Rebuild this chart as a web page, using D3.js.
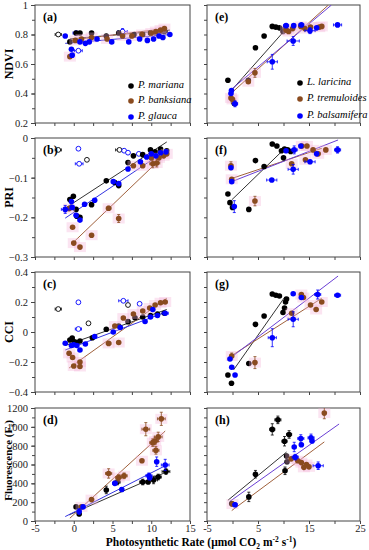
<!DOCTYPE html>
<html>
<head>
<meta charset="utf-8">
<script src="https://cdn.jsdelivr.net/npm/d3@7"></script>
<style>
body { margin: 0; background: #fff; }
svg { display: block; font-family: "Liberation Serif", "Times New Roman", serif; }
</style>
</head>
<body>
<svg id="chart" width="369" height="550"></svg>
<script>
// species names for the two columns
const left_species = ["P. mariana", "P. banksiana", "P. glauca"];
const right_species = ["L. laricina", "P. tremuloides", "P. balsamifera"];

const y_titles = ["NDVI", "PRI", "CCI", "Fluorescence"];
const x_ticks_left = [-5, 0, 5, 10, 15];
const x_ticks_right = [-5, 5, 15, 25];
const ndvi_ticks = [0.2, 0.4, 0.6, 0.8, 1];
const pri_ticks = [-0.3, -0.2, -0.1, 0];
const cci_ticks = [-0.4, -0.2, 0, 0.2, 0.4];
const fs_ticks = [0, 200, 400, 600, 800, 1000, 1200];

// points: [x, y, x error, y error]
const a_black = [[-0.5,0.75],[0.3,0.81],[0.8,0.81],[2.3,0.81],[4.2,0.79],[5.8,0.81],[7.8,0.80],[8.9,0.80],[9.9,0.81],[10.6,0.81],[11.2,0.82],[11.7,0.82,0.4,0.01]];
const a_brown = [[-0.5,0.65],[0.2,0.76],[1.0,0.77],[2.3,0.78],[4.3,0.77],[6.3,0.79],[7.5,0.79],[8.8,0.80],[10.0,0.81],[10.6,0.82],[11.2,0.83],[11.7,0.84]];
const a_blue = [[-1.1,0.79],[-0.3,0.70],[-0.2,0.66],[0.8,0.75],[1.5,0.74],[2.0,0.75],[3.0,0.77],[4.9,0.75],[7.1,0.75],[8.5,0.77],[9.5,0.76],[10.3,0.77],[11.0,0.79],[11.5,0.78],[12.4,0.80]];
const a_open_black = [[-2.0,0.80,0.4,0.01]];
const a_open_blue = [[0.3,0.81,0.4,0.01],[0.6,0.69,0.5,0],[6.3,0.82,0.6,0.02]];
const a_fits = [[[-0.5,0.77],[12.4,0.83]], [[-0.5,0.76],[11.8,0.84]], [[-1.1,0.74],[12.5,0.80]]];

const b_black = [[-0.5,-0.155],[-0.05,-0.147],[0.3,-0.18],[0.4,-0.197],[0.8,-0.2],[2.3,-0.168],[4.2,-0.108],[5.3,-0.112],[5.8,-0.12],[7.0,-0.062],[7.7,-0.045],[8.9,-0.042],[9.9,-0.03],[10.5,-0.035],[11.2,-0.028],[12.0,-0.032]];
const b_brown = [[-0.6,-0.178],[-0.15,-0.225],[0.0,-0.265],[0.8,-0.275],[2.3,-0.245],[4.5,-0.177,0.3,0.005],[5.8,-0.203,0,0.01],[7.7,-0.07],[8.9,-0.07],[10.2,-0.065,0.4,0.01],[10.7,-0.063,0.4,0.01],[10.0,-0.05],[11.0,-0.05],[11.6,-0.045],[12.0,-0.04]];
const b_blue = [[-1.1,-0.18,0.5,0.01],[-0.3,-0.16],[-0.2,-0.175],[0.3,-0.195],[0.8,-0.207],[1.4,-0.167],[2.7,-0.157],[5.1,-0.11],[5.8,-0.115],[7.0,-0.078],[8.6,-0.06],[9.4,-0.048],[10.0,-0.04],[10.6,-0.045],[11.2,-0.037],[11.9,-0.035]];
const b_open_black = [[-2.0,-0.03,0.4,0],[1.7,-0.055],[5.9,-0.03,0.5,0]];
const b_open_blue = [[0.6,-0.027],[0.7,-0.065,0.5,0],[6.5,-0.032],[7.0,-0.037],[8.4,-0.04]];
const b_fits = [[[-1.1,-0.177],[12.0,-0.01]], [[-0.15,-0.265],[11.6,-0.045]], [[-1.1,-0.202],[12.0,-0.03]]];

const c_black = [[-0.5,-0.053],[-0.2,-0.04],[0.1,-0.065],[0.4,-0.07],[0.8,-0.06],[2.4,-0.038],[4.2,0.018],[5.8,0.04],[7.0,0.069],[7.9,0.095],[8.9,0.1],[9.9,0.11],[10.8,0.12],[11.7,0.125]];
const c_brown = [[-0.6,-0.142],[-0.15,-0.17],[0.0,-0.227],[0.8,-0.23],[0.8,-0.2],[4.5,-0.076,0.3,0],[5.8,-0.07],[5.3,0.04],[6.4,0.093],[7.7,0.12],[8.9,0.14],[9.8,0.16],[10.5,0.18],[11.2,0.195],[11.8,0.2]];
const c_blue = [[-1.1,-0.075],[-0.3,-0.09],[0.0,-0.085],[0.4,-0.09],[0.8,-0.12],[1.5,-0.08],[2.7,-0.03],[5.1,0.0],[6.0,0.03],[9.2,0.07],[9.9,0.1],[10.2,0.15],[10.8,0.11],[11.8,0.125,0.4,0]];
const c_open_black = [[-2.0,0.153,0.4,0],[1.9,0.058],[7.0,0.18]];
const c_open_blue = [[0.6,0.198],[0.6,0.02,0.4,0],[6.4,0.208,0.6,0],[8.5,0.188]];
const c_fits = [[[-1.1,-0.09],[12.0,0.15]], [[-0.6,-0.24],[12.0,0.225]], [[-1.1,-0.12],[12.0,0.135]]];

const d_black = [[0.3,150],[0.7,75,0,20],[4.2,330,0,40],[5.6,414,0.4,30],[8.9,414,0.4,30],[9.6,414],[10.3,436,0.5,40],[10.9,467,0.4,30],[11.9,525,0.5,30]];
const d_brown = [[1.0,150],[2.3,227,0,20],[4.5,505,0.4,50],[5.8,461,0.4,30],[6.5,480,0.4,30],[8.8,640],[9.3,975,0.5,70],[10.2,832,0.4,40],[10.5,850,0.4,40],[10.6,750,0.4,40],[10.9,893,0.5,50],[11.3,1085,0.5,70]];
const d_blue = [[0.7,101,0,30],[1.2,150],[5.3,400,0.3,20],[6.2,335,0,20],[9.7,480,0.4,30],[9.8,460],[10.7,630,0,50],[11.8,595,0.5,60]];
const d_fits = [[[-0.6,65],[12.0,522]], [[-0.5,30],[11.8,955]], [[-1.1,47],[12.0,595]]];

const e_black = [[-0.9,0.49],[0.2,0.34],[0.4,0.33],[3.1,0.49],[4.5,0.71],[6.2,0.79],[7.8,0.855],[8.5,0.85],[9.2,0.845],[9.9,0.82],[10.3,0.84],[10.6,0.83]];
const e_brown = [[-0.3,0.37],[0.0,0.36],[3.1,0.48],[4.4,0.54,0,0.03],[10.5,0.83],[11.0,0.82],[11.8,0.84],[13.4,0.855],[14.2,0.84],[15.3,0.85],[17.0,0.85],[17.5,0.855]];
const e_blue = [[-0.3,0.40],[-0.2,0.42],[0.5,0.33,0.5,0.02],[7.8,0.615,1.0,0.05],[11.9,0.756,1.2,0.03],[10.5,0.86,0.5,0.01],[12.0,0.86],[13.5,0.865,0.5,0.01],[15.2,0.826,1.0,0.02],[16.5,0.845],[20.6,0.865,0.8,0.01]];
const e_fits = [[[-0.5,0.41],[10.3,0.83]], [[-0.3,0.40],[18.8,1.0]], [[-0.5,0.42],[19.4,1.0]]];

const f_black = [[-0.9,-0.141],[-0.5,-0.163],[0.0,-0.175],[3.2,-0.18],[4.5,-0.057],[6.2,-0.072],[7.8,-0.015],[8.7,-0.02],[9.6,-0.032],[10.0,-0.05],[10.2,-0.028],[10.8,-0.03],[11.4,-0.034]];
const f_brown = [[-0.3,-0.07,0,0.01],[-0.15,-0.104],[4.4,-0.159,0,0.012],[11.6,-0.065],[13.6,-0.02],[14.3,-0.055],[14.6,-0.02],[15.8,-0.03],[16.8,-0.04],[18.3,-0.03]];
const f_blue = [[-0.3,-0.075],[-0.15,-0.11],[0.35,-0.173,0,0.015],[7.7,-0.106,1.0,0],[11.9,-0.079,1.0,0.012],[10.5,-0.032],[12.1,-0.03,0.6,0.01],[13.4,-0.02],[15.2,-0.06,1.0,0],[16.5,-0.04],[20.6,-0.03,0.6,0.008]];
const f_fits = [[[-0.15,-0.156],[10.3,-0.026]], [[-0.15,-0.102],[17.5,-0.026]], [[-0.15,-0.11],[20.7,-0.005]]];

const g_black = [[-0.9,-0.287],[-0.2,-0.342],[3.2,-0.21],[4.5,0.051],[6.2,0.107],[7.8,0.253],[8.5,0.245],[9.2,0.24],[9.9,0.13],[10.2,0.16],[10.4,0.2],[10.6,0.22]];
const g_brown = [[-0.15,-0.16,0,0.02],[4.4,-0.204,0,0.04],[11.6,0.125],[13.5,0.25],[13.9,0.23],[15.3,0.18],[16.4,0.15],[17.5,0.2]];
const g_blue = [[-0.5,-0.18],[-0.15,-0.235],[0.5,-0.287],[7.8,-0.038,0.8,0.06],[11.9,0.085,1.0,0.05],[11.9,0.255],[13.5,0.23],[16.7,0.25,0.6,0.03],[20.6,0.245,0.6,0.01]];
const g_fits = [[[0.2,-0.253],[10.3,0.235]], [[-0.5,-0.165],[17.5,0.225]], [[-0.5,-0.175],[20.7,0.373]]];

const h_black = [[-0.15,184],[3.2,256,0,50],[4.5,497,0,40],[7.8,973,0.5,60],[8.9,1074,0.6,40],[10.2,847,0.5,50],[11.1,919,0.5,40],[10.6,689],[10.7,630],[10.3,533,0,40]];
const h_brown = [[0.0,180],[11.5,660],[12.8,640],[13.5,620],[14.0,570],[14.5,600],[15.0,575],[18.0,1146,0,60]];
const h_blue = [[0.5,173,0.4,20],[12.1,786,0,50],[12.3,678,0.6,30],[13.4,876,0.6,40],[13.5,810],[15.4,883,0.6,40],[15.6,850],[16.8,587,1.0,40]];
const h_fits = [[[-0.9,220],[10.6,732]], [[-0.15,111],[18.0,840]], [[-0.5,209],[20.9,1030]]];

const COLORS = ["#000000", "#8a4b1f", "#0000ff"];
const FIT_COLORS_LEFT = ["#333333", "#a0613c", "#3434e0"];
const FIT_COLORS_RIGHT = ["#333333", "#a0613c", "#6a3fd4"];

const COLS = [[35, 190], [207, 360]];
const ROWS = [[5, 123], [138, 257], [272, 392], [408, 521]];
const X_DOMAINS = [[-5, 15], [-5, 25]];

var rows_cfg = [
    { domain: [0.2, 1], ticks: ndvi_ticks, minor: 0.1 },
    { domain: [-0.3, 0], ticks: pri_ticks, minor: 0.05 },
    { domain: [-0.4, 0.4], ticks: cci_ticks, minor: 0.1 },
    { domain: [0, 1200], ticks: fs_ticks, minor: 100 }
];

var panels = [
    { label: "(a)", col: 0, row: 0, series: [a_black, a_brown, a_blue], open: [a_open_black, [], a_open_blue], fits: a_fits },
    { label: "(b)", col: 0, row: 1, series: [b_black, b_brown, b_blue], open: [b_open_black, [], b_open_blue], fits: b_fits },
    { label: "(c)", col: 0, row: 2, series: [c_black, c_brown, c_blue], open: [c_open_black, [], c_open_blue], fits: c_fits },
    { label: "(d)", col: 0, row: 3, series: [d_black, d_brown, d_blue], open: [[], [], []], fits: d_fits },
    { label: "(e)", col: 1, row: 0, series: [e_black, e_brown, e_blue], open: [[], [], []], fits: e_fits },
    { label: "(f)", col: 1, row: 1, series: [f_black, f_brown, f_blue], open: [[], [], []], fits: f_fits },
    { label: "(g)", col: 1, row: 2, series: [g_black, g_brown, g_blue], open: [[], [], []], fits: g_fits },
    { label: "(h)", col: 1, row: 3, series: [h_black, h_brown, h_blue], open: [[], [], []], fits: h_fits }
];

var svg = d3.select("#chart");

function fmt_tick(v) {
    return v == 0 ? "0" : d3.format("")(+v.toFixed(2));
}

function draw_points(g, x, y, pts, color, open, halo) {
    if (halo) {
        g.append("g").selectAll("rect")
            .data(pts)
            .join("rect")
            .attr("x", d => x(d[0]) - 6)
            .attr("y", d => y(d[1]) - 5)
            .attr("width", 12)
            .attr("height", 10)
            .attr("fill", "#f4b3d8")
            .attr("opacity", 0.35);
    }
    var err = g.append("g")
        .attr("stroke", color)
        .attr("stroke-width", 0.8);
    pts.filter(d => d[2]).forEach(function(d) {
        err.append("line").attr("x1", x(d[0] - d[2])).attr("x2", x(d[0] + d[2])).attr("y1", y(d[1])).attr("y2", y(d[1]));
        err.append("line").attr("x1", x(d[0] - d[2])).attr("x2", x(d[0] - d[2])).attr("y1", y(d[1]) - 1.5).attr("y2", y(d[1]) + 1.5);
        err.append("line").attr("x1", x(d[0] + d[2])).attr("x2", x(d[0] + d[2])).attr("y1", y(d[1]) - 1.5).attr("y2", y(d[1]) + 1.5);
    });
    pts.filter(d => d[3]).forEach(function(d) {
        err.append("line").attr("x1", x(d[0])).attr("x2", x(d[0])).attr("y1", y(d[1] - d[3])).attr("y2", y(d[1] + d[3]));
        err.append("line").attr("x1", x(d[0]) - 1.5).attr("x2", x(d[0]) + 1.5).attr("y1", y(d[1] - d[3])).attr("y2", y(d[1] - d[3]));
        err.append("line").attr("x1", x(d[0]) - 1.5).attr("x2", x(d[0]) + 1.5).attr("y1", y(d[1] + d[3])).attr("y2", y(d[1] + d[3]));
    });
    g.append("g").selectAll("circle")
        .data(pts)
        .join("circle")
        .attr("cx", d => x(d[0]))
        .attr("cy", d => y(d[1]))
        .attr("r", open ? 2.4 : 2.8)
        .attr("fill", open ? "white" : color)
        .attr("stroke", color)
        .attr("stroke-width", open ? 0.9 : 0);
}

panels.forEach(function(p, pi) {
    var cfg = rows_cfg[p.row];
    var xr = COLS[p.col], yr = ROWS[p.row];
    var x = d3.scaleLinear().domain(X_DOMAINS[p.col]).range(xr);
    var y = d3.scaleLinear().domain(cfg.domain).range([yr[1], yr[0]]);
    var g = svg.append("g");

    svg.append("clipPath").attr("id", "clip" + pi)
        .append("rect")
        .attr("x", xr[0]).attr("y", yr[0])
        .attr("width", xr[1] - xr[0]).attr("height", yr[1] - yr[0]);

    // y axis: minor ticks everywhere, labels only on the left column
    var minor = d3.range(cfg.domain[0], cfg.domain[1] + cfg.minor / 2, cfg.minor);
    g.append("g")
        .attr("transform", "translate(" + xr[0] + ",0)")
        .call(d3.axisLeft(y).tickValues(minor).tickFormat("").tickSize(3).tickSizeOuter(0));
    if (p.col == 0) {
        g.append("g")
            .attr("transform", "translate(" + xr[0] + ",0)")
            .call(d3.axisLeft(y).tickValues(cfg.ticks).tickFormat(fmt_tick).tickSize(4).tickSizeOuter(0).tickPadding(3));
    }

    // x axis
    var xstep = p.col == 0 ? 2.5 : 5;
    var xminor = d3.range(X_DOMAINS[p.col][0], X_DOMAINS[p.col][1] + 0.1, xstep);
    var xlabels = p.col == 0 ? x_ticks_left : x_ticks_right;
    g.append("g")
        .attr("transform", "translate(0," + yr[1] + ")")
        .call(d3.axisBottom(x).tickValues(xminor)
            .tickFormat(v => (p.row == 3 && xlabels.includes(v)) ? v : "")
            .tickSize(3).tickSizeOuter(0).tickPadding(1));

    g.selectAll(".domain").remove();
    g.selectAll(".tick line").attr("stroke", "#444");
    g.selectAll(".tick text")
        .attr("fill", "#222")
        .style("font-family", "'Liberation Serif', serif")
        .style("font-size", "10.5px");

    // frame
    g.append("rect")
        .attr("x", xr[0]).attr("y", yr[0])
        .attr("width", xr[1] - xr[0]).attr("height", yr[1] - yr[0])
        .attr("fill", "none")
        .attr("stroke", "#444")
        .attr("stroke-width", 1);

    var inner = g.append("g").attr("clip-path", "url(#clip" + pi + ")");

    // regression lines
    var fit_colors = p.col == 0 ? FIT_COLORS_LEFT : FIT_COLORS_RIGHT;
    p.fits.forEach(function(f, i) {
        inner.append("line")
            .attr("x1", x(f[0][0])).attr("y1", y(f[0][1]))
            .attr("x2", x(f[1][0])).attr("y2", y(f[1][1]))
            .attr("stroke", fit_colors[i])
            .attr("stroke-width", 1);
    });

    p.open.forEach((pts, i) => draw_points(inner, x, y, pts, COLORS[i], true, false));
    p.series.forEach((pts, i) => draw_points(inner, x, y, pts, COLORS[i], false, i == 1));

    g.append("text")
        .attr("x", xr[0] + 8)
        .attr("y", yr[0] + 16)
        .attr("font-weight", "bold")
        .attr("font-size", "12px")
        .text(p.label);
});

// legends
function draw_legend(names, mx, ys) {
    names.forEach(function(n, i) {
        svg.append("circle")
            .attr("cx", mx).attr("cy", ys[i])
            .attr("r", 2.8)
            .attr("fill", COLORS[i]);
        svg.append("text")
            .attr("x", mx + 7).attr("y", ys[i])
            .attr("dominant-baseline", "middle")
            .attr("font-style", "italic")
            .attr("font-size", "10.5px")
            .text(n);
    });
}
draw_legend(left_species, 131, [86, 101, 117]);
draw_legend(right_species, 300, [83, 99, 116]);

// y axis titles
var title_x = [13, 13, 13, 12];
var title_size = ["12px", "12px", "12px", "11px"];
y_titles.forEach(function(t, i) {
    var cy = (ROWS[i][0] + ROWS[i][1]) / 2 - (i == 3 ? 4 : 0);
    var txt = svg.append("text")
        .attr("transform", "translate(" + title_x[i] + "," + cy + ") rotate(-90)")
        .attr("text-anchor", "middle")
        .attr("font-weight", "bold")
        .attr("font-size", title_size[i])
        .text(t);
    if (i == 3) {
        txt.append("tspan").text(" (F");
        txt.append("tspan").attr("font-size", "7.5px").attr("dy", 2.5).text("s");
        txt.append("tspan").attr("dy", -2.5).text(")");
    }
});

// x axis title
var xt = svg.append("text")
    .attr("x", 201).attr("y", 546)
    .attr("text-anchor", "middle")
    .attr("font-weight", "bold")
    .attr("font-size", "11.5px")
    .text("Photosynthetic Rate (μmol CO");
xt.append("tspan").attr("font-size", "7.5px").attr("dy", 2.5).text("2");
xt.append("tspan").attr("dy", -2.5).text(" m");
xt.append("tspan").attr("font-size", "7.5px").attr("dy", -4).text("-2");
xt.append("tspan").attr("dy", 4).text(" s");
xt.append("tspan").attr("font-size", "7.5px").attr("dy", -4).text("-1");
xt.append("tspan").attr("dy", 4).text(")");
</script>
</body>
</html>
